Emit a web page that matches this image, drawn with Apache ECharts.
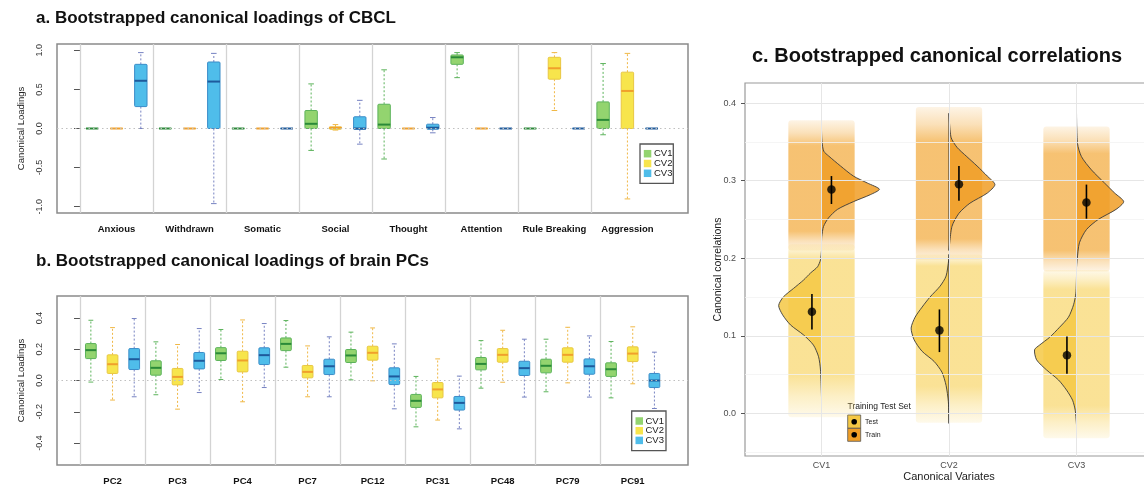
<!DOCTYPE html>
<html>
<head>
<meta charset="utf-8">
<script src="https://cdn.jsdelivr.net/npm/echarts@6/dist/echarts.min.js"></script>
<style>html,body{margin:0;padding:0;background:#fff}#c{width:1144px;height:485px}</style>
</head>
<body>
<div id="c"></div>
<script>
// ---------- DATA ----------
const cbclCategories = ['Anxious','Withdrawn','Somatic','Social','Thought','Attention','Rule Breaking','Aggression'];
// each entry: [lower whisker, Q1, median, Q3, upper whisker]
const cbclCV1 = [[0,0,0,0,0],[0,0,0,0,0],[0,0,0,0,0],[-0.28,0,0.06,0.23,0.57],[-0.39,0,0.05,0.31,0.75],[0.65,0.82,0.91,0.94,0.97],[0,0,0,0,0],[-0.08,0,0.11,0.34,0.83]];
const cbclCV2 = [[0,0,0,0,0],[0,0,0,0,0],[0,0,0,0,0],[-0.02,-0.01,0.01,0.02,0.05],[0,0,0,0,0],[0,0,0,0,0],[0.23,0.63,0.77,0.91,0.97],[-0.90,0,0.48,0.72,0.96]];
const cbclCV3 = [[0,0.28,0.61,0.82,0.97],[-0.96,0,0.60,0.85,0.96],[0,0,0,0,0],[-0.20,-0.01,0.0,0.15,0.36],[-0.055,-0.01,0.01,0.055,0.14],[0,0,0,0,0],[0,0,0,0,0],[0,0,0,0,0]];
const cbclTicks = [-1,-0.5,0,0.5,1];

const pcCategories = ['PC2','PC3','PC4','PC7','PC12','PC31','PC48','PC79','PC91'];
const pcCV1 = [[-0.01,0.14,0.194,0.236,0.385],[-0.091,0.034,0.081,0.126,0.247],[0.006,0.128,0.174,0.21,0.326],[0.085,0.191,0.234,0.272,0.383],[0.004,0.115,0.16,0.198,0.309],[-0.296,-0.172,-0.13,-0.089,0.026],[-0.049,0.068,0.106,0.147,0.255],[-0.072,0.049,0.094,0.136,0.264],[-0.111,0.026,0.072,0.113,0.249]];
const pcCV2 = [[-0.125,0.045,0.104,0.164,0.338],[-0.183,-0.028,0.023,0.077,0.23],[-0.136,0.055,0.128,0.187,0.387],[-0.104,0.017,0.055,0.096,0.221],[-0.002,0.13,0.177,0.219,0.336],[-0.253,-0.111,-0.057,-0.013,0.138],[-0.011,0.117,0.164,0.204,0.321],[-0.015,0.117,0.164,0.209,0.34],[-0.021,0.121,0.172,0.215,0.343]];
const pcCV3 = [[-0.104,0.07,0.136,0.204,0.396],[-0.077,0.074,0.126,0.179,0.332],[-0.045,0.102,0.162,0.209,0.364],[-0.104,0.038,0.091,0.136,0.279],[-0.181,-0.026,0.026,0.081,0.234],[-0.309,-0.189,-0.143,-0.102,0.028],[-0.106,0.032,0.079,0.123,0.264],[-0.106,0.04,0.091,0.138,0.285],[-0.179,-0.045,0.0,0.045,0.181]];
const pcTicks = [-0.4,-0.2,0,0.2,0.4];

const cvCategories = ['CV1','CV2','CV3'];
const trainMean = [0.2886,0.2955,0.272];
const trainLo   = [0.270,0.274,0.251];
const trainHi   = [0.306,0.319,0.295];
const testMean  = [0.131,0.107,0.075];
const testLo    = [0.108,0.079,0.051];
const testHi    = [0.154,0.134,0.099];
// bootstrap point clouds: [sparse low, dense low, dense high, sparse high]
const trainCloud = [[0.21,0.235,0.345,0.378],[0.198,0.225,0.35,0.395],[0.183,0.21,0.335,0.37]];
const testCloud  = [[-0.005,0.05,0.198,0.218],[-0.012,0.035,0.19,0.205],[-0.032,0.01,0.16,0.185]];
// half-violin outlines: [correlation, half width in category units]
const trainViolin = [
  [[0.22,0],[0.228,0.002],[0.241,0.016],[0.252,0.055],[0.263,0.125],[0.273,0.25],[0.282,0.383],[0.289,0.454],[0.297,0.36],[0.306,0.25],[0.319,0.149],[0.332,0.055],[0.338,0.018],[0.35,0.004],[0.365,0]],
  [[0.21,0],[0.241,0.023],[0.258,0.078],[0.271,0.164],[0.284,0.30],[0.295,0.36],[0.306,0.30],[0.319,0.22],[0.331,0.14],[0.343,0.063],[0.356,0.016],[0.387,0]],
  [[0.188,0],[0.198,0.005],[0.22,0.023],[0.237,0.078],[0.25,0.17],[0.263,0.31],[0.273,0.37],[0.284,0.30],[0.297,0.22],[0.314,0.117],[0.331,0.039],[0.348,0.008],[0.389,0]]
];
const testViolin = [
  [[0.021,0],[0.056,0.008],[0.073,0.023],[0.088,0.063],[0.101,0.14],[0.114,0.243],[0.127,0.305],[0.139,0.336],[0.150,0.30],[0.161,0.22],[0.172,0.14],[0.181,0.086],[0.189,0.031],[0.198,0.008],[0.21,0]],
  [[-0.013,0],[0.015,0.005],[0.036,0.023],[0.053,0.055],[0.067,0.117],[0.080,0.211],[0.095,0.274],[0.110,0.297],[0.124,0.266],[0.137,0.211],[0.150,0.149],[0.164,0.07],[0.177,0.023],[0.198,0.002],[0.205,0]],
  [[-0.015,0],[0.004,0.01],[0.017,0.031],[0.030,0.078],[0.043,0.141],[0.056,0.235],[0.069,0.313],[0.082,0.329],[0.088,0.29],[0.098,0.211],[0.111,0.133],[0.124,0.063],[0.140,0.023],[0.155,0.005],[0.177,0]]
];
const corrTicks = [0,0.1,0.2,0.3,0.4];
const corrMinor = [-0.05,0.05,0.15,0.25,0.35];

// ---------- STYLE ----------
const FONT = 'Liberation Sans, Arial, Helvetica, sans-serif';
const CV_OFFSET = 1/3;
const cvStyles = [
  {fill:'#93d46f', edge:'#5cb35b', median:'#2a8a38', whisker:'#5cb35b'},
  {fill:'#f7e54c', edge:'#e8c743', median:'#f0a02c', whisker:'#f0b846'},
  {fill:'#4fbdea', edge:'#3a8cc8', median:'#1e5a9c', whisker:'#7783c2'}
];
const TRAIN_DX = 0.078, TEST_DX = -0.075, CLOUD_HALF = 0.26;

function makeBoxRender(k, bwUnits) {
  const st = cvStyles[k];
  return function (params, api) {
    const xc = api.value(0) + 0.5 + (k - 1) * CV_OFFSET;
    const pl = api.coord([xc, api.value(1)]);
    const p1 = api.coord([xc, api.value(2)]);
    const pm = api.coord([xc, api.value(3)]);
    const p3 = api.coord([xc, api.value(4)]);
    const ph = api.coord([xc, api.value(5)]);
    const bw = api.size([bwUnits, 0])[0];
    const cw = bw * 0.45;
    const X = pm[0];
    const dash = {stroke: st.whisker, lineWidth: 1, lineDash: [2, 2], fill: null};
    const solid = {stroke: st.whisker, lineWidth: 1, fill: null};
    return {type: 'group', children: [
      {type: 'line', shape: {x1: X, y1: p3[1], x2: X, y2: ph[1]}, style: dash},
      {type: 'line', shape: {x1: X, y1: p1[1], x2: X, y2: pl[1]}, style: dash},
      {type: 'line', shape: {x1: X - cw/2, y1: ph[1], x2: X + cw/2, y2: ph[1]}, style: solid},
      {type: 'line', shape: {x1: X - cw/2, y1: pl[1], x2: X + cw/2, y2: pl[1]}, style: solid},
      {type: 'rect', shape: {x: X - bw/2, y: p3[1], width: bw, height: p1[1] - p3[1], r: 1}, style: {fill: st.fill, stroke: st.edge, lineWidth: 1}},
      {type: 'line', shape: {x1: X - bw/2, y1: pm[1], x2: X + bw/2, y2: pm[1]}, style: {stroke: st.median, lineWidth: 2}}
    ]};
  };
}

function boxSeries(name, k, arr, axisIdx, bwUnits, extra) {
  return Object.assign({
    name: name, type: 'custom', xAxisIndex: axisIdx, yAxisIndex: axisIdx,
    itemStyle: {color: cvStyles[k].fill},
    renderItem: makeBoxRender(k, bwUnits),
    data: arr.map((d, i) => [i].concat(d)),
    z: 3, silent: true
  }, extra || {});
}

function panelMarkLines(categories) {
  return {
    silent: true, symbol: 'none', label: {show: false}, animation: false,
    data: categories.map((c, i) => ({xAxis: i, lineStyle: {color: '#d3d3d3', width: 1.3, type: 'solid'}}))
      .concat([{yAxis: 0, lineStyle: {color: '#c0c0c0', width: 1.2, type: [1.5, 3]}}])
  };
}

function cloudRender(clouds, rgb, coreA, tailA) {
  return function (params, api) {
    const xc = api.value(0);
    const lo = api.value(1), il = api.value(2), ih = api.value(3), hi = api.value(4);
    const a = api.coord([xc - CLOUD_HALF, hi]);
    const b = api.coord([xc + CLOUD_HALF, lo]);
    const t = v => (hi - v) / (hi - lo);
    const c = al => 'rgba(' + rgb + ',' + al + ')';
    const stops = [
      {offset: 0, color: c(0.12)}, {offset: Math.max(0.01, t(ih) * 0.5), color: c(tailA)},
      {offset: t(ih), color: c(coreA)}, {offset: t(il), color: c(coreA)},
      {offset: Math.min(0.99, t(il) + (1 - t(il)) * 0.5), color: c(tailA)}, {offset: 1, color: c(0.12)}];
    return {type: 'rect', shape: {x: a[0], y: a[1], width: b[0] - a[0], height: b[1] - a[1], r: 3},
      style: {fill: {type: 'linear', x: 0, y: 0, x2: 0, y2: 1, colorStops: stops}}};
  };
}

function violinRender(dens, sign, fill) {
  return function (params, api) {
    const xc = api.value(0);
    const d = dens[params.dataIndex];
    const curve = d.map(p => api.coord([xc + sign * p[1], p[0]]));
    const yB = d[0][0], yT = d[d.length - 1][0];
    const centre = [];
    for (let j = 1; j < 6; j++) centre.push(api.coord([xc, yT - (yT - yB) * j / 6]));
    const pB = api.coord([xc, yB]), pT = api.coord([xc, yT]);
    return {type: 'group', children: [
      {type: 'polygon', shape: {points: curve.concat(centre), smooth: 0.25}, style: {fill: fill, stroke: null}},
      {type: 'polyline', shape: {points: curve, smooth: 0.25}, style: {fill: null, stroke: '#3a3a3a', lineWidth: 0.9}},
      {type: 'line', shape: {x1: pB[0], y1: pB[1], x2: pT[0], y2: pT[1]}, style: {stroke: '#2a2a2a', lineWidth: 1}}
    ]};
  };
}

function errRender(params, api) {
  const a = api.coord([api.value(0), api.value(1)]);
  const b = api.coord([api.value(0), api.value(2)]);
  return {type: 'line', shape: {x1: a[0], y1: a[1], x2: b[0], y2: b[1]}, style: {stroke: '#000', lineWidth: 1.6}};
}

const TRAIN_RGB = '242,165,48', TEST_RGB = '247,208,85';

const chart = echarts.init(document.getElementById('c'), null, {renderer: 'canvas'});
const titleStyle = {fontFamily: FONT, fontSize: 17, fontWeight: 'bold', color: '#111'};

function legendGraphic(x, y, w, h, rows, gap, sw, tx) {
  const ch = [{type: 'rect', shape: {x: x, y: y, width: w, height: h}, style: {fill: '#fff', stroke: '#555', lineWidth: 1.3}}];
  cvStyles.forEach((s, i) => {
    const cy = rows + i * gap;
    ch.push({type: 'rect', shape: {x: x + 3.8, y: cy - sw/2, width: sw, height: sw}, style: {fill: s.fill}});
    ch.push({type: 'text', x: tx, y: cy, style: {text: 'CV' + (i + 1), fontSize: 9.5, fontFamily: FONT, fill: '#222', verticalAlign: 'middle'}});
  });
  return {type: 'group', z: 50, children: ch};
}

const option = {
  animation: false,
  backgroundColor: '#fff',
  title: [
    {text: 'a. Bootstrapped canonical loadings of CBCL', left: 36, top: 10, padding: 0, textStyle: titleStyle},
    {text: 'b. Bootstrapped canonical loadings of brain PCs', left: 36, top: 253, padding: 0, textStyle: titleStyle},
    {text: 'c. Bootstrapped canonical correlations', left: 752, top: 46, padding: 0, textStyle: Object.assign({}, titleStyle, {fontSize: 20})}
  ],
  grid: [
    {left: 57, top: 44, width: 631, height: 169, show: true, borderColor: '#8a8a8a', borderWidth: 1.5, backgroundColor: '#fff', outerBoundsMode: 'none', containLabel: false},
    {left: 57, top: 296, width: 631, height: 169, show: true, borderColor: '#8a8a8a', borderWidth: 1.5, backgroundColor: '#fff', outerBoundsMode: 'none', containLabel: false},
    {left: 745, top: 83, width: 408, height: 373, show: true, borderColor: '#9a9a9a', borderWidth: 1.2, backgroundColor: '#fff', outerBoundsMode: 'none', containLabel: false}
  ],
  xAxis: [
    {gridIndex: 0, type: 'value', min: -0.315, max: 8.33, axisLine: {show: false}, axisTick: {show: false}, splitLine: {show: false},
      axisLabel: {customValues: cbclCategories.map((c, i) => i + 0.5), formatter: v => cbclCategories[Math.floor(v)], fontFamily: FONT, fontWeight: 'bold', fontSize: 9.5, color: '#111', margin: 11}},
    {gridIndex: 1, type: 'value', min: -0.354, max: 9.35, axisLine: {show: false}, axisTick: {show: false}, splitLine: {show: false},
      axisLabel: {customValues: pcCategories.map((c, i) => i + 0.5), formatter: v => pcCategories[Math.floor(v)], fontFamily: FONT, fontWeight: 'bold', fontSize: 9.5, color: '#111', margin: 11}},
    {gridIndex: 2, type: 'value', min: 0.4, max: 3.6, axisLine: {show: false}, splitLine: {show: false},
      axisTick: {show: true, customValues: cvCategories.map((c, i) => i + 1), length: 3, lineStyle: {color: '#555'}},
      axisLabel: {customValues: cvCategories.map((c, i) => i + 1), formatter: v => cvCategories[Math.round(v) - 1], fontFamily: FONT, fontSize: 9, color: '#4d4d4d', margin: 5},
      name: 'Canonical Variates', nameLocation: 'middle', nameGap: 15.5, nameMoveOverlap: false, nameTextStyle: {fontFamily: FONT, fontSize: 11, color: '#222'}}
  ],
  yAxis: [
    {gridIndex: 0, type: 'value', min: -1.08, max: 1.08, axisLine: {show: false}, splitLine: {show: false},
      axisTick: {show: true, customValues: cbclTicks, length: 6, lineStyle: {color: '#555'}},
      axisLabel: {customValues: cbclTicks, formatter: v => v.toFixed(1), rotate: 90, fontFamily: FONT, fontSize: 9, color: '#333', margin: 13},
      name: 'Canonical Loadings', nameLocation: 'middle', nameGap: 31, nameMoveOverlap: false, nameTextStyle: {fontFamily: FONT, fontSize: 9.5, color: '#222'}},
    {gridIndex: 1, type: 'value', min: -0.54, max: 0.54, axisLine: {show: false}, splitLine: {show: false},
      axisTick: {show: true, customValues: pcTicks, length: 6, lineStyle: {color: '#555'}},
      axisLabel: {customValues: pcTicks, formatter: v => v.toFixed(1), rotate: 90, fontFamily: FONT, fontSize: 9, color: '#333', margin: 13},
      name: 'Canonical Loadings', nameLocation: 'middle', nameGap: 31, nameMoveOverlap: false, nameTextStyle: {fontFamily: FONT, fontSize: 9.5, color: '#222'}},
    {gridIndex: 2, type: 'value', min: -0.055, max: 0.426, axisLine: {show: false}, splitLine: {show: false},
      axisTick: {show: true, customValues: corrTicks, length: 4, lineStyle: {color: '#555'}},
      axisLabel: {customValues: corrTicks, formatter: v => v.toFixed(1), fontFamily: FONT, fontSize: 9, color: '#4d4d4d', margin: 9},
      name: 'Canonical correlations', nameLocation: 'middle', nameGap: 21, nameMoveOverlap: false, nameTextStyle: {fontFamily: FONT, fontSize: 10.5, color: '#222'}}
  ],
  series: [
    boxSeries('CV1', 0, cbclCV1, 0, 0.17, {markLine: panelMarkLines(cbclCategories), z: 2}),
    boxSeries('CV2', 1, cbclCV2, 0, 0.17),
    boxSeries('CV3', 2, cbclCV3, 0, 0.17),
    boxSeries('CV1', 0, pcCV1, 1, 0.165, {markLine: panelMarkLines(pcCategories), z: 2}),
    boxSeries('CV2', 1, pcCV2, 1, 0.165),
    boxSeries('CV3', 2, pcCV3, 1, 0.165),
    {type: 'custom', name: 'Train cloud', xAxisIndex: 2, yAxisIndex: 2, z: 2, silent: true,
      renderItem: cloudRender(trainCloud, TRAIN_RGB, 0.68, 0.34),
      data: trainCloud.map((d, i) => [i + 1].concat(d)),
      markLine: {silent: true, symbol: 'none', label: {show: false},
        data: corrMinor.map(v => ({yAxis: v, lineStyle: {color: '#f3f3f3', width: 0.8, type: 'solid'}}))
          .concat(corrTicks.map(v => ({yAxis: v, lineStyle: {color: '#e6e6e6', width: 1, type: 'solid'}})))
          .concat(cvCategories.map((c, i) => ({xAxis: i + 1, lineStyle: {color: '#e6e6e6', width: 1, type: 'solid'}})))}},
    {type: 'custom', name: 'Test cloud', xAxisIndex: 2, yAxisIndex: 2, z: 2, silent: true,
      renderItem: cloudRender(testCloud, TEST_RGB, 0.62, 0.34),
      data: testCloud.map((d, i) => [i + 1].concat(d))},
    {type: 'custom', name: 'Train', xAxisIndex: 2, yAxisIndex: 2, z: 4, silent: true,
      renderItem: violinRender(trainViolin, 1, 'rgba(240,158,38,0.85)'),
      data: cvCategories.map((c, i) => [i + 1])},
    {type: 'custom', name: 'Test', xAxisIndex: 2, yAxisIndex: 2, z: 4, silent: true,
      renderItem: violinRender(testViolin, -1, 'rgba(245,200,68,0.85)'),
      data: cvCategories.map((c, i) => [i + 1])},
    {type: 'custom', xAxisIndex: 2, yAxisIndex: 2, z: 5, silent: true, renderItem: errRender,
      data: cvCategories.map((c, i) => [i + 1 + TRAIN_DX, trainLo[i], trainHi[i]])
        .concat(cvCategories.map((c, i) => [i + 1 + TEST_DX, testLo[i], testHi[i]]))},
    {type: 'scatter', xAxisIndex: 2, yAxisIndex: 2, z: 6, silent: true, symbolSize: 8.5, itemStyle: {color: '#000'},
      data: cvCategories.map((c, i) => [i + 1 + TRAIN_DX, trainMean[i]])
        .concat(cvCategories.map((c, i) => [i + 1 + TEST_DX, testMean[i]]))}
  ],
  graphic: [
    legendGraphic(640, 144, 33.3, 39.3, 153.7, 9.8, 7.5, 654),
    legendGraphic(631.7, 411, 34.3, 39.7, 421, 9.7, 7.5, 645.5),
    {type: 'group', z: 50, children: [
      {type: 'text', x: 847.5, y: 406.7, style: {text: 'Training Test Set', fontSize: 8.5, fontFamily: FONT, fill: '#222', verticalAlign: 'middle'}},
      {type: 'rect', shape: {x: 847.7, y: 415, width: 13, height: 13.3}, style: {fill: 'rgb(245,200,68)', stroke: '#555', lineWidth: 0.8}},
      {type: 'rect', shape: {x: 847.7, y: 428.3, width: 13, height: 13}, style: {fill: 'rgb(240,158,38)', stroke: '#555', lineWidth: 0.8}},
      {type: 'circle', shape: {cx: 854.2, cy: 421.7, r: 2.8}, style: {fill: '#000'}},
      {type: 'circle', shape: {cx: 854.2, cy: 434.8, r: 2.8}, style: {fill: '#000'}},
      {type: 'text', x: 865, y: 422, style: {text: 'Test', fontSize: 7, fontFamily: FONT, fill: '#222', verticalAlign: 'middle'}},
      {type: 'text', x: 865, y: 435, style: {text: 'Train', fontSize: 7, fontFamily: FONT, fill: '#222', verticalAlign: 'middle'}}
    ]}
  ]
};
chart.setOption(option);
</script>
</body>
</html>
